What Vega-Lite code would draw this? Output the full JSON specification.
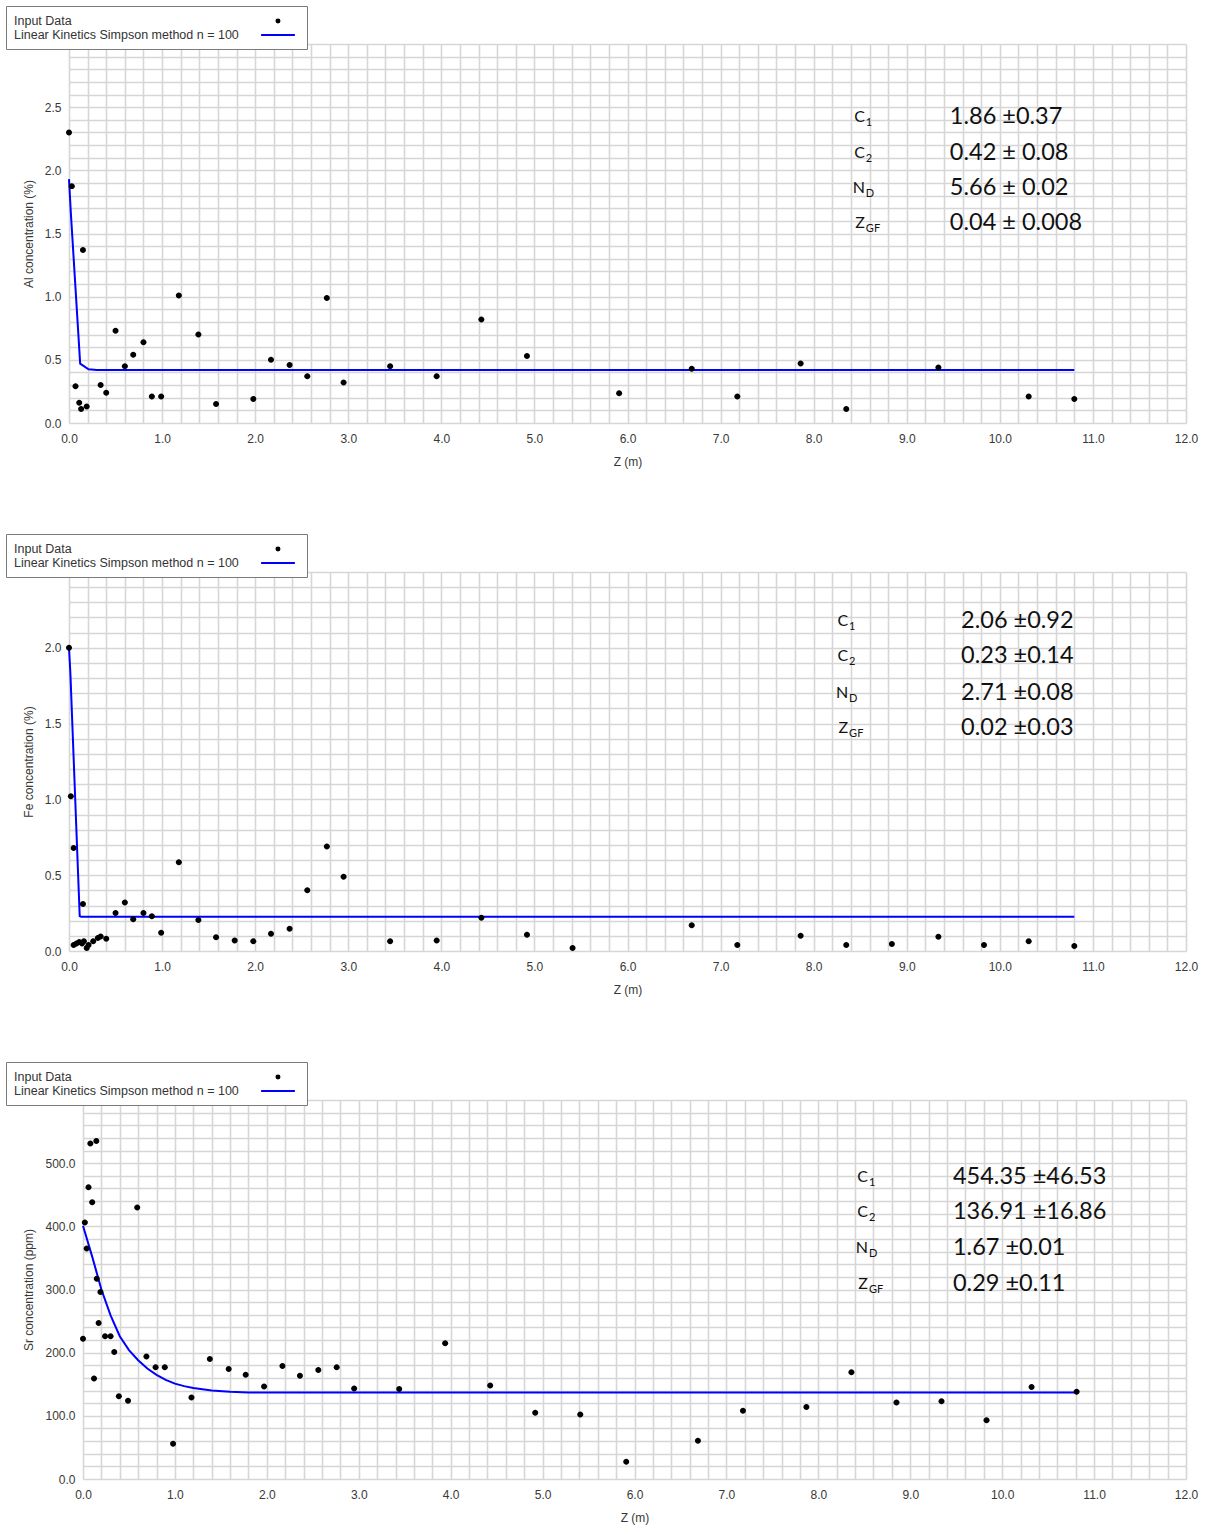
{
  "$schema": "https://vega.github.io/schema/vega-lite/v6.json",
  "background": "white",
  "padding": 5,
  "columns": 1,
  "spacing": 66,
  "resolve": {
    "scale": {"x": "independent", "y": "independent", "color": "independent", "shape": "independent"},
    "legend": {"color": "independent", "shape": "independent"}
  },
  "datasets": {
    "al_obs": [
      {"z": 0.0, "c": 2.30}, {"z": 0.03, "c": 1.875}, {"z": 0.07, "c": 0.29}, {"z": 0.11, "c": 0.16},
      {"z": 0.13, "c": 0.11}, {"z": 0.15, "c": 1.37}, {"z": 0.19, "c": 0.13}, {"z": 0.34, "c": 0.30},
      {"z": 0.40, "c": 0.24}, {"z": 0.50, "c": 0.73}, {"z": 0.60, "c": 0.45}, {"z": 0.69, "c": 0.54},
      {"z": 0.80, "c": 0.64}, {"z": 0.89, "c": 0.21}, {"z": 0.99, "c": 0.21}, {"z": 1.18, "c": 1.01},
      {"z": 1.39, "c": 0.70}, {"z": 1.58, "c": 0.15}, {"z": 1.98, "c": 0.19}, {"z": 2.17, "c": 0.50},
      {"z": 2.37, "c": 0.46}, {"z": 2.56, "c": 0.37}, {"z": 2.77, "c": 0.99}, {"z": 2.95, "c": 0.32},
      {"z": 3.45, "c": 0.45}, {"z": 3.95, "c": 0.37}, {"z": 4.43, "c": 0.82}, {"z": 4.92, "c": 0.53},
      {"z": 5.91, "c": 0.235}, {"z": 6.69, "c": 0.43}, {"z": 7.18, "c": 0.21}, {"z": 7.86, "c": 0.47},
      {"z": 8.35, "c": 0.11}, {"z": 9.34, "c": 0.44}, {"z": 10.31, "c": 0.21}, {"z": 10.80, "c": 0.19}
    ],
    "al_fit": [
      {"z": 0, "c": 1.93}, {"z": 0.02, "c": 1.66}, {"z": 0.12, "c": 0.47}, {"z": 0.21, "c": 0.425},
      {"z": 0.3, "c": 0.42}, {"z": 10.8, "c": 0.42}
    ],
    "al_par": [
      {"sym": "C", "sub": "1", "val": "1.86 ±0.37", "c": 2.42},
      {"sym": "C", "sub": "2", "val": "0.42 ± 0.08", "c": 2.14},
      {"sym": "N", "sub": "D", "val": "5.66 ± 0.02", "c": 1.86},
      {"sym": "Z", "sub": "GF", "val": "0.04 ± 0.008", "c": 1.585}
    ],
    "fe_obs": [
      {"z": 0.0, "c": 2.0}, {"z": 0.02, "c": 1.02}, {"z": 0.05, "c": 0.68}, {"z": 0.15, "c": 0.31},
      {"z": 0.05, "c": 0.04}, {"z": 0.08, "c": 0.05}, {"z": 0.11, "c": 0.06}, {"z": 0.14, "c": 0.05},
      {"z": 0.16, "c": 0.065}, {"z": 0.19, "c": 0.02}, {"z": 0.21, "c": 0.04}, {"z": 0.26, "c": 0.065},
      {"z": 0.31, "c": 0.085}, {"z": 0.34, "c": 0.095}, {"z": 0.40, "c": 0.08},
      {"z": 0.50, "c": 0.25}, {"z": 0.60, "c": 0.32}, {"z": 0.69, "c": 0.21}, {"z": 0.80, "c": 0.25},
      {"z": 0.89, "c": 0.23}, {"z": 0.99, "c": 0.12}, {"z": 1.18, "c": 0.585}, {"z": 1.39, "c": 0.205},
      {"z": 1.58, "c": 0.09}, {"z": 1.78, "c": 0.07}, {"z": 1.98, "c": 0.064}, {"z": 2.17, "c": 0.114},
      {"z": 2.37, "c": 0.147}, {"z": 2.56, "c": 0.40}, {"z": 2.77, "c": 0.69}, {"z": 2.95, "c": 0.49},
      {"z": 3.45, "c": 0.064}, {"z": 3.95, "c": 0.07}, {"z": 4.43, "c": 0.22}, {"z": 4.92, "c": 0.108},
      {"z": 5.41, "c": 0.02}, {"z": 6.69, "c": 0.17}, {"z": 7.18, "c": 0.04}, {"z": 7.86, "c": 0.10},
      {"z": 8.35, "c": 0.04}, {"z": 8.84, "c": 0.046}, {"z": 9.34, "c": 0.094}, {"z": 9.83, "c": 0.04},
      {"z": 10.31, "c": 0.064}, {"z": 10.80, "c": 0.033}
    ],
    "fe_fit": [
      {"z": 0, "c": 2.0}, {"z": 0.015, "c": 1.83}, {"z": 0.115, "c": 0.23}, {"z": 0.13, "c": 0.226},
      {"z": 10.8, "c": 0.226}
    ],
    "fe_par": [
      {"sym": "C", "sub": "1", "val": "2.06 ±0.92", "c": 2.18},
      {"sym": "C", "sub": "2", "val": "0.23 ±0.14", "c": 1.943},
      {"sym": "N", "sub": "D", "val": "2.71 ±0.08", "c": 1.70},
      {"sym": "Z", "sub": "GF", "val": "0.02 ±0.03", "c": 1.47}
    ],
    "sr_obs": [
      {"z": 0.0, "c": 222}, {"z": 0.02, "c": 406}, {"z": 0.04, "c": 365}, {"z": 0.06, "c": 462},
      {"z": 0.08, "c": 531}, {"z": 0.10, "c": 438}, {"z": 0.12, "c": 159}, {"z": 0.145, "c": 535},
      {"z": 0.15, "c": 317}, {"z": 0.17, "c": 247}, {"z": 0.19, "c": 296}, {"z": 0.24, "c": 226},
      {"z": 0.30, "c": 226}, {"z": 0.34, "c": 201}, {"z": 0.39, "c": 131}, {"z": 0.49, "c": 124},
      {"z": 0.59, "c": 430}, {"z": 0.69, "c": 194}, {"z": 0.79, "c": 177}, {"z": 0.89, "c": 177},
      {"z": 0.98, "c": 56}, {"z": 1.18, "c": 129}, {"z": 1.38, "c": 190}, {"z": 1.585, "c": 174},
      {"z": 1.77, "c": 165}, {"z": 1.97, "c": 146.5}, {"z": 2.17, "c": 179}, {"z": 2.36, "c": 163.4},
      {"z": 2.56, "c": 172.5}, {"z": 2.76, "c": 177}, {"z": 2.95, "c": 143.4}, {"z": 3.44, "c": 142.4},
      {"z": 3.94, "c": 215}, {"z": 4.43, "c": 148}, {"z": 4.92, "c": 105}, {"z": 5.41, "c": 102},
      {"z": 5.91, "c": 27.4}, {"z": 6.69, "c": 60.5}, {"z": 7.18, "c": 108}, {"z": 7.87, "c": 114},
      {"z": 8.36, "c": 169}, {"z": 8.85, "c": 121}, {"z": 9.34, "c": 123}, {"z": 9.83, "c": 93},
      {"z": 10.32, "c": 145.5}, {"z": 10.81, "c": 138}
    ],
    "sr_fit": [
      {"z": 0, "c": 401}, {"z": 0.1, "c": 352}, {"z": 0.2, "c": 300}, {"z": 0.3, "c": 259},
      {"z": 0.4, "c": 226}, {"z": 0.5, "c": 204}, {"z": 0.6, "c": 188}, {"z": 0.7, "c": 175},
      {"z": 0.8, "c": 165}, {"z": 0.9, "c": 157}, {"z": 1.0, "c": 151}, {"z": 1.1, "c": 147},
      {"z": 1.2, "c": 144}, {"z": 1.4, "c": 140}, {"z": 1.6, "c": 138}, {"z": 1.8, "c": 137},
      {"z": 10.81, "c": 137}
    ],
    "sr_par": [
      {"sym": "C", "sub": "1", "val": "454.35 ±46.53", "c": 478},
      {"sym": "C", "sub": "2", "val": "136.91 ±16.86", "c": 422},
      {"sym": "N", "sub": "D", "val": "1.67 ±0.01", "c": 365},
      {"sym": "Z", "sub": "GF", "val": "0.29 ±0.11", "c": 309}
    ]
  },
  "config": {
    "view": {"stroke": null},
    "font": "Liberation Sans",
    "axis": {
      "domain": false,
      "ticks": false,
      "tickSize": 0,
      "grid": true,
      "gridColor": "#d6d6d6",
      "gridWidth": 1.6,
      "labelFont": "Liberation Sans",
      "labelFontSize": 12,
      "labelColor": "#383838",
      "labelFlush": false,
      "labelOverlap": false,
      "titleFont": "Liberation Sans",
      "titleFontSize": 12,
      "titleFontWeight": "normal",
      "titleColor": "#383838"
    },
    "axisX": {"labelPadding": 10, "titlePadding": 12},
    "axisY": {"labelPadding": 8, "titlePadding": 9},
    "legend": {
      "orient": "none",
      "direction": "vertical",
      "fillColor": "white",
      "strokeColor": "#7a7a7a",
      "padding": 7.5,
      "labelFont": "Liberation Sans",
      "labelFontSize": 12.5,
      "labelColor": "#333333",
      "labelLimit": 400,
      "rowPadding": 0,
      "symbolSize": 169,
      "symbolStrokeWidth": 2,
      "symbolOpacity": 1,
      "symbolOffset": 257,
      "labelOffset": -271.5
    }
  },
  "concat": [
    {
      "width": 1117,
      "height": 379,
      "layer": [
        {
          "data": {"name": "al_fit"},
          "mark": {"type": "line", "strokeWidth": 2},
          "encoding": {
            "x": {
              "field": "z", "type": "quantitative", "title": "Z (m)",
              "scale": {"domain": [0, 12], "nice": false, "zero": false},
              "axis": {
                "tickCount": 100,
                "values": [0,0.2,0.4,0.6,0.8,1,1.2,1.4,1.6,1.8,2,2.2,2.4,2.6,2.8,3,3.2,3.4,3.6,3.8,4,4.2,4.4,4.6,4.8,5,5.2,5.4,5.6,5.8,6,6.2,6.4,6.6,6.8,7,7.2,7.4,7.6,7.8,8,8.2,8.4,8.6,8.8,9,9.2,9.4,9.6,9.8,10,10.2,10.4,10.6,10.8,11,11.2,11.4,11.6,11.8,12],
                "labelExpr": "abs(datum.value - round(datum.value)) < 0.001 ? format(datum.value, '.1f') : ''"
              }
            },
            "y": {
              "field": "c", "type": "quantitative", "title": "Al concentration (%)",
              "scale": {"domain": [0, 3], "nice": false},
              "axis": {
                "tickCount": 100,
                "values": [0,0.1,0.2,0.3,0.4,0.5,0.6,0.7,0.8,0.9,1,1.1,1.2,1.3,1.4,1.5,1.6,1.7,1.8,1.9,2,2.1,2.2,2.3,2.4,2.5,2.6,2.7,2.8,2.9,3],
                "labelExpr": "abs(datum.value * 2 - round(datum.value * 2)) < 0.001 && datum.value < 2.9 ? format(datum.value, '.1f') : ''"
              }
            },
            "color": {
              "datum": "Linear Kinetics Simpson method n = 100",
              "scale": {"domain": ["Input Data", "Linear Kinetics Simpson method n = 100"], "range": ["#000000", "#0000ff"]},
              "legend": {"title": null, "orient": "none", "legendX": -63, "legendY": -38, "symbolSize": 169}
            }
          }
        },
        {
          "data": {"name": "al_obs"},
          "mark": {"type": "point", "filled": true, "size": 680, "opacity": 1},
          "encoding": {
            "x": {"field": "z", "type": "quantitative"},
            "y": {"field": "c", "type": "quantitative"},
            "color": {"datum": "Input Data"},
            "shape": {
              "datum": "Input Data",
              "scale": {"domain": ["Input Data", "Linear Kinetics Simpson method n = 100"], "range": ["M -0.23 0 A 0.23 0.23 0 1 0 0.23 0 A 0.23 0.23 0 1 0 -0.23 0 Z", "M -2.6 0 L 2.6 0"]},
              "legend": {"title": null, "orient": "none", "legendX": -63, "legendY": -38, "symbolSize": 169}
            }
          }
        },
        {
          "data": {"name": "al_par"},
          "mark": {"type": "text", "align": "right", "baseline": "middle", "font": "Lato", "fontSize": 16, "color": "#111111"},
          "encoding": {"x": {"datum": 8.55}, "y": {"field": "c", "type": "quantitative"}, "text": {"field": "sym"}}
        },
        {
          "data": {"name": "al_par"},
          "mark": {"type": "text", "align": "left", "baseline": "middle", "dx": 1, "dy": 6, "font": "Lato", "fontSize": 11, "color": "#111111"},
          "encoding": {"x": {"datum": 8.55}, "y": {"field": "c", "type": "quantitative"}, "text": {"field": "sub"}}
        },
        {
          "data": {"name": "al_par"},
          "mark": {"type": "text", "align": "left", "baseline": "middle", "dx": 85, "font": "Lato", "fontSize": 23.5, "color": "#111111"},
          "encoding": {"x": {"datum": 8.55}, "y": {"field": "c", "type": "quantitative"}, "text": {"field": "val"}}
        }
      ]
    },
    {
      "width": 1117,
      "height": 379,
      "layer": [
        {
          "data": {"name": "fe_fit"},
          "mark": {"type": "line", "strokeWidth": 2},
          "encoding": {
            "x": {
              "field": "z", "type": "quantitative", "title": "Z (m)",
              "scale": {"domain": [0, 12], "nice": false, "zero": false},
              "axis": {
                "tickCount": 100,
                "values": [0,0.2,0.4,0.6,0.8,1,1.2,1.4,1.6,1.8,2,2.2,2.4,2.6,2.8,3,3.2,3.4,3.6,3.8,4,4.2,4.4,4.6,4.8,5,5.2,5.4,5.6,5.8,6,6.2,6.4,6.6,6.8,7,7.2,7.4,7.6,7.8,8,8.2,8.4,8.6,8.8,9,9.2,9.4,9.6,9.8,10,10.2,10.4,10.6,10.8,11,11.2,11.4,11.6,11.8,12],
                "labelExpr": "abs(datum.value - round(datum.value)) < 0.001 ? format(datum.value, '.1f') : ''"
              }
            },
            "y": {
              "field": "c", "type": "quantitative", "title": "Fe concentration (%)",
              "scale": {"domain": [0, 2.5], "nice": false},
              "axis": {
                "tickCount": 100,
                "values": [0,0.1,0.2,0.3,0.4,0.5,0.6,0.7,0.8,0.9,1,1.1,1.2,1.3,1.4,1.5,1.6,1.7,1.8,1.9,2,2.1,2.2,2.3,2.4,2.5],
                "labelExpr": "abs(datum.value * 2 - round(datum.value * 2)) < 0.001 && datum.value < 2.4 ? format(datum.value, '.1f') : ''"
              }
            },
            "color": {
              "datum": "Linear Kinetics Simpson method n = 100",
              "scale": {"domain": ["Input Data", "Linear Kinetics Simpson method n = 100"], "range": ["#000000", "#0000ff"]},
              "legend": {"title": null, "orient": "none", "legendX": -63, "legendY": -38, "symbolSize": 169}
            }
          }
        },
        {
          "data": {"name": "fe_obs"},
          "mark": {"type": "point", "filled": true, "size": 680, "opacity": 1},
          "encoding": {
            "x": {"field": "z", "type": "quantitative"},
            "y": {"field": "c", "type": "quantitative"},
            "color": {"datum": "Input Data"},
            "shape": {
              "datum": "Input Data",
              "scale": {"domain": ["Input Data", "Linear Kinetics Simpson method n = 100"], "range": ["M -0.23 0 A 0.23 0.23 0 1 0 0.23 0 A 0.23 0.23 0 1 0 -0.23 0 Z", "M -2.6 0 L 2.6 0"]},
              "legend": {"title": null, "orient": "none", "legendX": -63, "legendY": -38, "symbolSize": 169}
            }
          }
        },
        {
          "data": {"name": "fe_par"},
          "mark": {"type": "text", "align": "right", "baseline": "middle", "font": "Lato", "fontSize": 16, "color": "#111111"},
          "encoding": {"x": {"datum": 8.37}, "y": {"field": "c", "type": "quantitative"}, "text": {"field": "sym"}}
        },
        {
          "data": {"name": "fe_par"},
          "mark": {"type": "text", "align": "left", "baseline": "middle", "dx": 1, "dy": 6, "font": "Lato", "fontSize": 11, "color": "#111111"},
          "encoding": {"x": {"datum": 8.37}, "y": {"field": "c", "type": "quantitative"}, "text": {"field": "sub"}}
        },
        {
          "data": {"name": "fe_par"},
          "mark": {"type": "text", "align": "left", "baseline": "middle", "dx": 113, "font": "Lato", "fontSize": 23.5, "color": "#111111"},
          "encoding": {"x": {"datum": 8.37}, "y": {"field": "c", "type": "quantitative"}, "text": {"field": "val"}}
        }
      ]
    },
    {
      "width": 1117,
      "height": 379,
      "layer": [
        {
          "data": {"name": "sr_fit"},
          "mark": {"type": "line", "strokeWidth": 2},
          "encoding": {
            "x": {
              "field": "z", "type": "quantitative", "title": "Z (m)",
              "scale": {"domain": [0, 12], "range": [14, 1117], "nice": false, "zero": false},
              "axis": {
                "tickCount": 100,
                "values": [0,0.2,0.4,0.6,0.8,1,1.2,1.4,1.6,1.8,2,2.2,2.4,2.6,2.8,3,3.2,3.4,3.6,3.8,4,4.2,4.4,4.6,4.8,5,5.2,5.4,5.6,5.8,6,6.2,6.4,6.6,6.8,7,7.2,7.4,7.6,7.8,8,8.2,8.4,8.6,8.8,9,9.2,9.4,9.6,9.8,10,10.2,10.4,10.6,10.8,11,11.2,11.4,11.6,11.8,12],
                "labelExpr": "abs(datum.value - round(datum.value)) < 0.001 ? format(datum.value, '.1f') : ''"
              }
            },
            "y": {
              "field": "c", "type": "quantitative", "title": "Sr concentration (ppm)",
              "scale": {"domain": [0, 600], "nice": false},
              "axis": {
                "offset": -14,
                "tickCount": 100,
                "values": [0,20,40,60,80,100,120,140,160,180,200,220,240,260,280,300,320,340,360,380,400,420,440,460,480,500,520,540,560,580,600],
                "labelExpr": "datum.value % 100 == 0 && datum.value < 600 ? format(datum.value, '.1f') : ''"
              }
            },
            "color": {
              "datum": "Linear Kinetics Simpson method n = 100",
              "scale": {"domain": ["Input Data", "Linear Kinetics Simpson method n = 100"], "range": ["#000000", "#0000ff"]},
              "legend": {"title": null, "orient": "none", "legendX": -63, "legendY": -38, "symbolSize": 169}
            }
          }
        },
        {
          "data": {"name": "sr_obs"},
          "mark": {"type": "point", "filled": true, "size": 680, "opacity": 1},
          "encoding": {
            "x": {"field": "z", "type": "quantitative"},
            "y": {"field": "c", "type": "quantitative"},
            "color": {"datum": "Input Data"},
            "shape": {
              "datum": "Input Data",
              "scale": {"domain": ["Input Data", "Linear Kinetics Simpson method n = 100"], "range": ["M -0.23 0 A 0.23 0.23 0 1 0 0.23 0 A 0.23 0.23 0 1 0 -0.23 0 Z", "M -2.6 0 L 2.6 0"]},
              "legend": {"title": null, "orient": "none", "legendX": -63, "legendY": -38, "symbolSize": 169}
            }
          }
        },
        {
          "data": {"name": "sr_par"},
          "mark": {"type": "text", "align": "right", "baseline": "middle", "font": "Lato", "fontSize": 16, "color": "#111111"},
          "encoding": {"x": {"datum": 8.54}, "y": {"field": "c", "type": "quantitative"}, "text": {"field": "sym"}}
        },
        {
          "data": {"name": "sr_par"},
          "mark": {"type": "text", "align": "left", "baseline": "middle", "dx": 1, "dy": 6, "font": "Lato", "fontSize": 11, "color": "#111111"},
          "encoding": {"x": {"datum": 8.54}, "y": {"field": "c", "type": "quantitative"}, "text": {"field": "sub"}}
        },
        {
          "data": {"name": "sr_par"},
          "mark": {"type": "text", "align": "left", "baseline": "middle", "dx": 85, "font": "Lato", "fontSize": 23.5, "color": "#111111"},
          "encoding": {"x": {"datum": 8.54}, "y": {"field": "c", "type": "quantitative"}, "text": {"field": "val"}}
        }
      ]
    }
  ]
}
